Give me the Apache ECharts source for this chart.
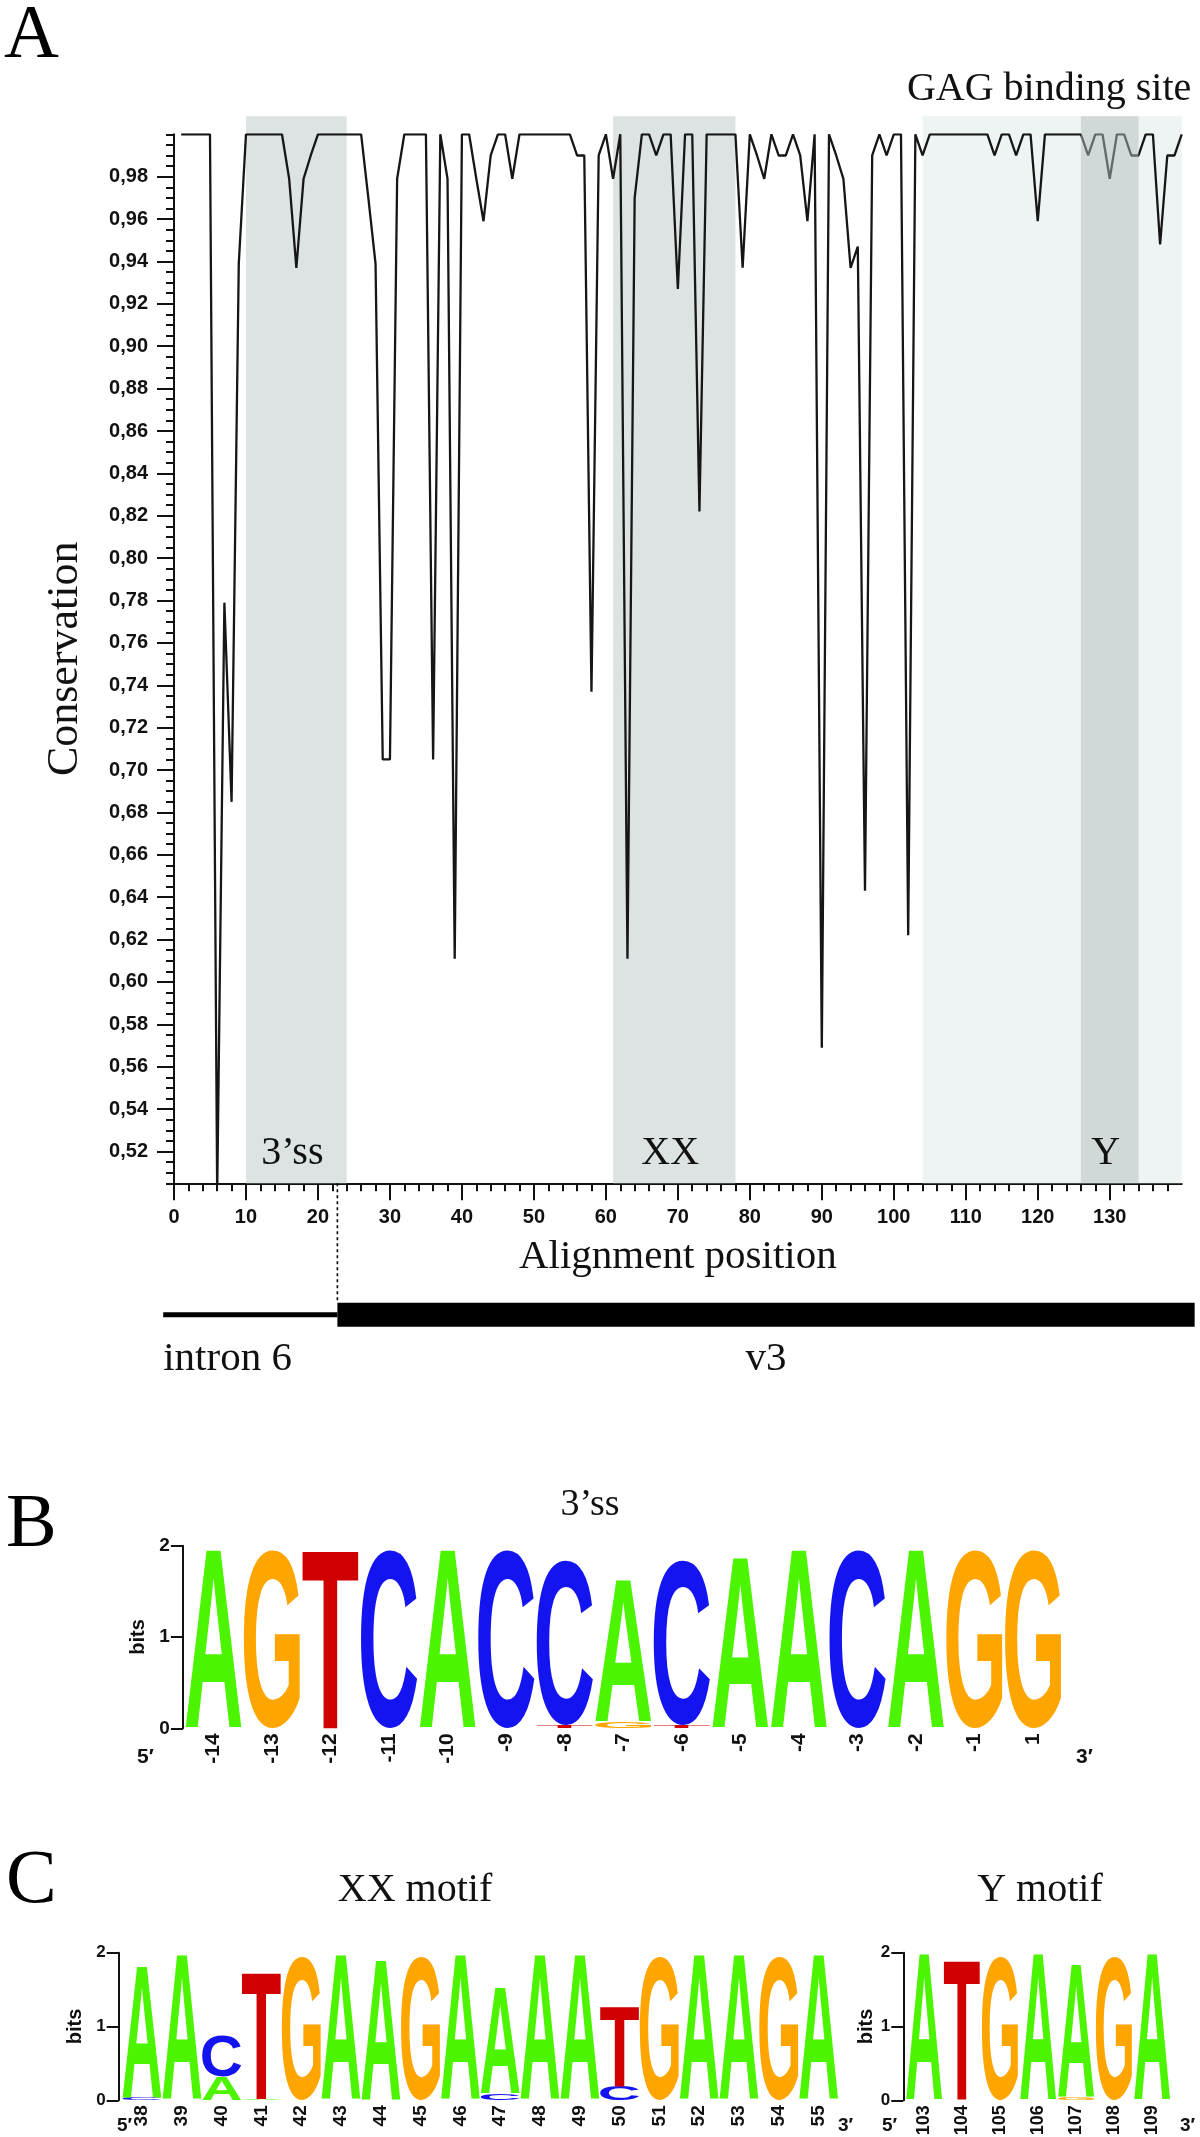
<!DOCTYPE html>
<html><head><meta charset="utf-8">
<script src="https://cdn.jsdelivr.net/npm/echarts@6/dist/echarts.min.js"></script>
<style>html,body{margin:0;padding:0;background:#fff}#main{width:1200px;height:2137px}</style>
</head><body><div id="main"></div>
<script>
// ---------------- DATA ----------------
const positions = [1,2,3,4,5,6,7,8,9,10,11,12,13,14,15,16,17,18,19,20,21,22,23,24,25,26,27,28,29,30,
31,32,33,34,35,36,37,38,39,40,41,42,43,44,45,46,47,48,49,50,51,52,53,54,55,56,57,58,59,60,
61,62,63,64,65,66,67,68,69,70,71,72,73,74,75,76,77,78,79,80,81,82,83,84,85,86,87,88,89,90,
91,92,93,94,95,96,97,98,99,100,101,102,103,104,105,106,107,108,109,110,111,112,113,114,115,116,117,118,119,120,
121,122,123,124,125,126,127,128,129,130,131,132,133,134,135,136,137,138,139,140];
const conservation = [
1.0,1.0,1.0,1.0,1.0,0.50,0.779,0.685,0.939,1.0,
1.0,1.0,1.0,1.0,1.0,0.979,0.937,0.979,0.99,1.0,
1.0,1.0,1.0,1.0,1.0,1.0,0.97,0.939,0.705,0.705,
0.979,1.0,1.0,1.0,1.0,0.705,1.0,0.979,0.611,1.0,
1.0,0.979,0.959,0.99,1.0,1.0,0.979,1.0,1.0,1.0,
1.0,1.0,1.0,1.0,1.0,0.99,0.99,0.737,0.99,1.0,
0.979,1.0,0.611,0.97,1.0,1.0,0.99,1.0,1.0,0.927,
1.0,1.0,0.822,1.0,1.0,1.0,1.0,1.0,0.937,1.0,
0.99,0.979,1.0,0.99,0.99,1.0,0.99,0.959,1.0,0.569,
1.0,0.99,0.979,0.937,0.947,0.643,0.99,1.0,0.99,1.0,
1.0,0.622,1.0,0.99,1.0,1.0,1.0,1.0,1.0,1.0,
1.0,1.0,1.0,0.99,1.0,1.0,0.99,1.0,1.0,0.959,
1.0,1.0,1.0,1.0,1.0,1.0,0.99,1.0,1.0,0.979,
1.0,1.0,0.99,0.99,1.0,1.0,0.948,0.99,0.99,1.0];

const xMajorTicks = [0,10,20,30,40,50,60,70,80,90,100,110,120,130];
const yMajorTicks = [0.52,0.54,0.56,0.58,0.60,0.62,0.64,0.66,0.68,0.70,0.72,0.74,0.76,0.78,0.80,0.82,0.84,0.86,0.88,0.90,0.92,0.94,0.96,0.98];
const xMinorTicks = Array.from({length: 70}, (_, k) => 2 * k);
const yMinorTicks = Array.from({length: 100}, (_, k) => +(0.505 + 0.005 * k).toFixed(3));

const regionNames = ['3\u2019ss', 'XX', 'GAG binding site', 'Y'];
const regionStart = [10, 61, 104, 126];
const regionEnd = [24, 78, 140, 134];

const geneSegmentNames = ['intron 6', 'v3'];
const geneSegmentStart = [-1.5, 22.7];
const geneSegmentEnd = [22.7, 141.8];
const spliceSite = [22.7];

const bPositions = ['-14','-13','-12','-11','-10','-9','-8','-7','-6','-5','-4','-3','-2','-1','1'];
const bStacks = [
 [['A',1.95]], [['G',1.95]], [['T',1.95]], [['C',1.95]], [['A',1.95]], [['C',1.95]],
 [['T',0.03],['C',1.80]], [['G',0.07],['A',1.55]], [['T',0.03],['C',1.80]],
 [['A',1.86]], [['A',1.95]], [['C',1.95]], [['A',1.95]], [['G',1.95]], [['G',1.95]]
];
const xxPositions = ['38','39','40','41','42','43','44','45','46','47','48','49','50','51','52','53','54','55'];
const xxStacks = [
 [['C',0.03],['A',1.79]], [['A',1.95]], [['A',0.32],['C',0.56]], [['A',0.02],['T',1.72]],
 [['G',1.95]], [['A',1.95]], [['A',1.88]], [['G',1.95]], [['A',1.95]],
 [['C',0.09],['A',1.44]], [['A',1.95]], [['A',1.95]], [['C',0.20],['T',1.09]],
 [['G',1.95]], [['A',1.95]], [['A',1.95]], [['G',1.95]], [['A',1.95]]
];
const yPositions = ['103','104','105','106','107','108','109'];
const yStacks = [
 [['A',1.97]], [['T',1.88]], [['G',1.95]], [['A',1.97]], [['G',0.03],['A',1.80]], [['G',1.95]], [['A',1.97]]
];

// ---------------- STYLE ----------------
const Y_MIN = 0.505, Y_MAX = 1.0;
const INK = '#111';
const SERIF = '"Liberation Serif", "Times New Roman", serif';
const SANS = '"Liberation Sans", Arial, sans-serif';
const regionFill = ['#dde3e3', '#dde3e3', '#eef3f3', 'rgba(178,190,190,0.5)'];
const regionLayer = ['under', 'under', 'under', 'over'];
const regionLabelSide = ['bottom', 'bottom', 'top', 'bottom'];
const REGION_OVERHANG = 18;
const geneThickness = [5, 24];
const geneLabelAlign = ['left', 'center'];
const LETTERS = ['A', 'C', 'G', 'T'];
const LETTER_COLORS = {A: '#4cf400', C: '#1414f0', G: '#ffa500', T: '#d00000'};
const LOGO_FONT = 'bold 200px "Liberation Sans", Arial, sans-serif';

const mctx = document.createElement('canvas').getContext('2d');
mctx.font = LOGO_FONT; mctx.textAlign = 'center'; mctx.textBaseline = 'middle';
const glyphBox = {};
LETTERS.forEach(ch => {
  const m = mctx.measureText(ch);
  glyphBox[ch] = {l: m.actualBoundingBoxLeft, r: m.actualBoundingBoxRight, a: m.actualBoundingBoxAscent, d: m.actualBoundingBoxDescent};
});

function buildLetterData(stacks) {
  const out = [];
  stacks.forEach((col, ci) => {
    let base = 0;
    col.forEach(([ch, h]) => { out.push([ci, base, base + h, LETTERS.indexOf(ch)]); base += h; });
  });
  return out;
}
function letterRenderer(widthRatio) {
  return function (params, api) {
    const col = api.value(0), b0 = api.value(1), b1 = api.value(2);
    const ch = LETTERS[api.value(3)];
    const pb = api.coord([col, b0]);
    const pt = api.coord([col, b1]);
    const w = api.size([1, 0])[0] * widthRatio;
    const h = pb[1] - pt[1];
    if (h <= 0.2) return null;
    const g = glyphBox[ch];
    const sx = w / (g.l + g.r), sy = h / (g.a + g.d);
    const cy = (pb[1] + pt[1]) / 2;
    return {
      type: 'text',
      x: pb[0] - sx * (g.r - g.l) / 2,
      y: cy - sy * (g.d - g.a) / 2,
      scaleX: sx, scaleY: sy,
      style: {text: ch, font: LOGO_FONT, fill: LETTER_COLORS[ch], align: 'center', verticalAlign: 'middle'}
    };
  };
}

function renderRegion(params, api) {
  const idx = api.value(2);
  const s = api.coord([api.value(0), Y_MAX]);
  const e = api.coord([api.value(1), Y_MIN]);
  const top = s[1] - REGION_OVERHANG;
  const cx = (s[0] + e[0]) / 2;
  const children = [{type: 'rect', shape: {x: s[0], y: top, width: e[0] - s[0], height: e[1] - top}, style: {fill: regionFill[idx]}}];
  const font = '40px ' + SERIF;
  if (regionLabelSide[idx] === 'top') {
    children.push({type: 'text', x: cx - 3, y: top - 27, style: {text: regionNames[idx], font, fill: INK, align: 'center', verticalAlign: 'middle'}});
  } else {
    children.push({type: 'text', x: cx - 4, y: e[1] - 30, style: {text: regionNames[idx], font, fill: INK, align: 'center', verticalAlign: 'middle'}});
  }
  return {type: 'group', children};
}

function renderGene(params, api) {
  const i = params.dataIndex;
  const a = api.coord([api.value(0), 0]);
  const b = api.coord([api.value(1), 0]);
  const h = geneThickness[i];
  const lx = geneLabelAlign[i] === 'left' ? a[0] : (a[0] + b[0]) / 2;
  return {type: 'group', children: [
    {type: 'rect', shape: {x: a[0], y: a[1] - h / 2, width: b[0] - a[0], height: h}, style: {fill: '#000'}},
    {type: 'text', x: lx, y: a[1] + 45, style: {text: geneSegmentNames[i], font: '41px ' + SERIF, fill: INK, align: geneLabelAlign[i], verticalAlign: 'middle'}}
  ]};
}
function renderSplice(params, api) {
  const p1 = api.coord([api.value(0), 1]);
  const p0 = api.coord([api.value(0), 0]);
  return {type: 'line', shape: {x1: p1[0], y1: p1[1], x2: p0[0], y2: p0[1] - geneThickness[1] / 2},
    style: {stroke: '#000', lineWidth: 1.6, lineDash: [3, 3]}};
}

// ---------------- CHART ----------------
const chart = echarts.init(document.getElementById('main'), null, {renderer: 'canvas', width: 1200, height: 2137});
const gridBase = {containLabel: false, outerBoundsMode: 'none'};
const mainRect = {left: 174, top: 134.3, width: 1007.7, height: 1049};
const tickLabel = {fontFamily: SANS, fontWeight: 'bold', fontSize: 20, color: INK};
const logoY = (offset, fs, gap) => ({
  type: 'value', min: 0, max: 2, interval: 1, offset,
  axisLine: {show: true, lineStyle: {color: INK, width: 2}},
  axisTick: {show: true, length: 12, lineStyle: {color: INK, width: 2}},
  axisLabel: {fontFamily: SANS, fontWeight: 'bold', fontSize: fs, color: INK, margin: 13},
  splitLine: {show: false},
  name: 'bits', nameLocation: 'middle', nameRotate: 90, nameGap: gap,
  nameTextStyle: {fontFamily: SANS, fontWeight: 'bold', fontSize: 20, color: INK}
});
const logoX = (data, fs) => ({
  type: 'category', data, boundaryGap: true,
  axisLine: {show: false}, axisTick: {show: false},
  axisLabel: {interval: 0, rotate: 90, margin: 5, fontFamily: SANS, fontWeight: 'bold', fontSize: fs, color: INK},
  splitLine: {show: false}
});

const option = {
  animation: false,
  backgroundColor: '#fff',
  grid: [
    Object.assign({}, gridBase, mainRect),
    Object.assign({}, gridBase, mainRect),
    Object.assign({}, gridBase, {left: 174, top: 1183.3, width: 1007.7, height: 131.4}),
    Object.assign({}, gridBase, {left: 184.2, top: 1545.7, width: 878.1, height: 182.6}),
    Object.assign({}, gridBase, {left: 122.1, top: 1952.7, width: 716.4, height: 147.6}),
    Object.assign({}, gridBase, {left: 905, top: 1952.7, width: 266, height: 147.6})
  ],
  xAxis: [
    {gridIndex: 0, type: 'value', min: 0, max: 140, interval: 10,
      axisLine: {show: true, lineStyle: {color: INK, width: 2}},
      axisTick: {show: true, customValues: xMajorTicks, length: 17, lineStyle: {color: INK, width: 2}},
      axisLabel: Object.assign({customValues: xMajorTicks, margin: 24}, tickLabel),
      splitLine: {show: false},
      name: 'Alignment position', nameLocation: 'middle', nameGap: 53,
      nameTextStyle: {fontFamily: SERIF, fontSize: 41, color: INK}},
    {gridIndex: 1, type: 'value', min: 0, max: 140, interval: 2,
      axisLine: {show: false},
      axisTick: {show: true, customValues: xMinorTicks, length: 8, lineStyle: {color: INK, width: 2}},
      axisLabel: {show: false}, splitLine: {show: false}},
    {gridIndex: 2, type: 'value', min: 0, max: 140, show: false},
    Object.assign({gridIndex: 3}, logoX(bPositions, 21)),
    Object.assign({gridIndex: 4}, logoX(xxPositions, 19)),
    Object.assign({gridIndex: 5}, logoX(yPositions, 18))
  ],
  yAxis: [
    {gridIndex: 0, type: 'value', min: Y_MIN, max: Y_MAX, interval: 0.005,
      axisLine: {show: true, lineStyle: {color: INK, width: 2}},
      axisTick: {show: true, customValues: yMajorTicks, length: 17, lineStyle: {color: INK, width: 2}},
      axisLabel: Object.assign({customValues: yMajorTicks, margin: 26, formatter: v => v.toFixed(2).replace('.', ',')}, tickLabel),
      splitLine: {show: false},
      name: 'Conservation', nameLocation: 'middle', nameRotate: 90, nameGap: 87,
      nameTextStyle: {fontFamily: SERIF, fontSize: 44, color: INK}},
    {gridIndex: 1, type: 'value', min: Y_MIN, max: Y_MAX, interval: 0.005,
      axisLine: {show: false},
      axisTick: {show: true, customValues: yMinorTicks, length: 8, lineStyle: {color: INK, width: 2}},
      axisLabel: {show: false}, splitLine: {show: false}},
    {gridIndex: 2, type: 'value', min: 0, max: 1, show: false},
    Object.assign({gridIndex: 3}, logoY(1.3, 19, 28)),
    Object.assign({gridIndex: 4}, logoY(3.4, 17, 21)),
    Object.assign({gridIndex: 5}, logoY(1.7, 17, 21))
  ],
  series: [
    {type: 'custom', name: 'regions', xAxisIndex: 0, yAxisIndex: 0, z: 1, clip: false, silent: true,
      renderItem: renderRegion, encode: {x: [0, 1]},
      data: regionStart.map((s, i) => [s, regionEnd[i], i]).filter(d => regionLayer[d[2]] === 'under')},
    {type: 'line', name: 'Conservation', xAxisIndex: 0, yAxisIndex: 0, z: 3,
      data: positions.map((p, i) => [p, conservation[i]]),
      showSymbol: false, symbol: 'none', clip: true,
      lineStyle: {color: '#161616', width: 2.3}},
    {type: 'custom', name: 'regionsOver', xAxisIndex: 0, yAxisIndex: 0, z: 5, clip: false, silent: true,
      renderItem: renderRegion, encode: {x: [0, 1]},
      data: regionStart.map((s, i) => [s, regionEnd[i], i]).filter(d => regionLayer[d[2]] === 'over')},
    {type: 'custom', name: 'gene', xAxisIndex: 2, yAxisIndex: 2, clip: false, silent: true,
      renderItem: renderGene, encode: {x: [0, 1]},
      data: geneSegmentStart.map((s, i) => [s, geneSegmentEnd[i]])},
    {type: 'custom', name: 'splice', xAxisIndex: 2, yAxisIndex: 2, clip: false, silent: true,
      renderItem: renderSplice, encode: {x: 0},
      data: spliceSite.map(x => [x])},
    {type: 'custom', name: 'logo3ss', xAxisIndex: 3, yAxisIndex: 3, clip: false, silent: true,
      renderItem: letterRenderer(0.96), encode: {x: 0, y: [1, 2]}, data: buildLetterData(bStacks)},
    {type: 'custom', name: 'logoXX', xAxisIndex: 4, yAxisIndex: 4, clip: false, silent: true,
      renderItem: letterRenderer(0.98), encode: {x: 0, y: [1, 2]}, data: buildLetterData(xxStacks)},
    {type: 'custom', name: 'logoY', xAxisIndex: 5, yAxisIndex: 5, clip: false, silent: true,
      renderItem: letterRenderer(0.95), encode: {x: 0, y: [1, 2]}, data: buildLetterData(yStacks)}
  ],
  graphic: [
    {type: 'text', x: 4, y: 37, style: {text: 'A', font: '76px ' + SERIF, fill: '#000', align: 'left', verticalAlign: 'middle'}},
    {type: 'text', x: 6, y: 1526, style: {text: 'B', font: '76px ' + SERIF, fill: '#000', align: 'left', verticalAlign: 'middle'}},
    {type: 'text', x: 6, y: 1882, style: {text: 'C', font: '76px ' + SERIF, fill: '#000', align: 'left', verticalAlign: 'middle'}},
    {type: 'text', x: 590, y: 1505, style: {text: '3\u2019ss', font: '38px ' + SERIF, fill: INK, align: 'center', verticalAlign: 'middle'}},
    {type: 'text', x: 415, y: 1890, style: {text: 'XX motif', font: '40px ' + SERIF, fill: INK, align: 'center', verticalAlign: 'middle'}},
    {type: 'text', x: 1040, y: 1890, style: {text: 'Y motif', font: '40px ' + SERIF, fill: INK, align: 'center', verticalAlign: 'middle'}},
    {type: 'text', x: 137, y: 1757, style: {text: '5\u2032', font: 'bold 21px ' + SANS, fill: INK, align: 'left', verticalAlign: 'middle'}},
    {type: 'text', x: 1076, y: 1757, style: {text: '3\u2032', font: 'bold 21px ' + SANS, fill: INK, align: 'left', verticalAlign: 'middle'}},
    {type: 'text', x: 117, y: 2126, style: {text: '5\u2032', font: 'bold 19px ' + SANS, fill: INK, align: 'left', verticalAlign: 'middle'}},
    {type: 'text', x: 838, y: 2126, style: {text: '3\u2032', font: 'bold 19px ' + SANS, fill: INK, align: 'left', verticalAlign: 'middle'}},
    {type: 'text', x: 882, y: 2126, style: {text: '5\u2032', font: 'bold 19px ' + SANS, fill: INK, align: 'left', verticalAlign: 'middle'}},
    {type: 'text', x: 1180, y: 2126, style: {text: '3\u2032', font: 'bold 19px ' + SANS, fill: INK, align: 'left', verticalAlign: 'middle'}}
  ]
};
chart.setOption(option);
</script></body></html>
